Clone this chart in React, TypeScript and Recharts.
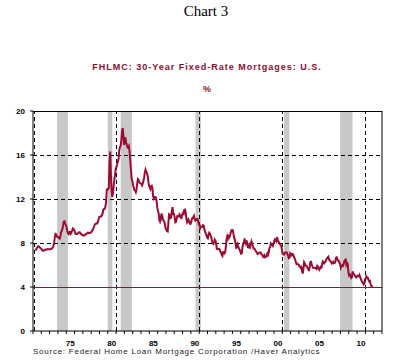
import React from "react"
import {
  ComposedChart,
  Line,
  XAxis,
  YAxis,
  ReferenceArea,
  ReferenceLine,
} from "recharts"

// monthly averages, April 1971 onwards (%)
const rates70s = [
  7.31, 7.43, 7.53, 7.6, 7.7, 7.69, 7.63, 7.55, 7.48,
  7.44, 7.32, 7.29, 7.29, 7.37, 7.37, 7.4, 7.4, 7.43, 7.45, 7.44, 7.44,
  7.44, 7.44, 7.46, 7.52, 7.58, 7.69, 7.97, 8.53, 8.82, 8.78, 8.58, 8.54,
  8.54, 8.46, 8.41, 8.58, 8.97, 9.09, 9.28, 9.59, 9.96, 9.98, 9.79, 9.62,
  9.43, 9.1, 8.89, 8.82, 8.99, 9.01, 8.84, 8.95, 9.13, 9.32, 9.26, 9.22,
  9.02, 8.82, 8.83, 8.81, 8.87, 8.94, 8.97, 8.97, 8.88, 8.82, 8.75, 8.71,
  8.72, 8.67, 8.69, 8.75, 8.83, 8.86, 8.87, 8.94, 8.9, 8.92, 8.92, 8.96,
  9.01, 9.15, 9.2, 9.36, 9.57, 9.71, 9.74, 9.78, 9.76, 9.86, 10.11, 10.35,
  10.39, 10.41, 10.43, 10.5, 10.69, 11.04, 11.09, 11.09, 11.3, 11.64, 12.83, 12.9,
]
const rates80s = [
  12.88, 13.04, 15.28, 16.32, 14.26, 12.71, 12.19, 12.56, 13.2, 13.79, 14.21, 14.79,
  14.9, 15.13, 15.4, 15.58, 16.4, 16.7, 16.83, 17.29, 18.16, 18.45, 17.83, 16.92,
  17.4, 17.6, 17.16, 16.89, 16.68, 16.7, 16.82, 16.27, 15.43, 14.61, 13.83, 13.62,
  13.25, 13.04, 12.8, 12.78, 12.63, 12.87, 13.42, 13.81, 13.73, 13.54, 13.44, 13.42,
  13.37, 13.23, 13.39, 13.65, 13.94, 14.42, 14.67, 14.47, 14.35, 14.13, 13.64, 13.18,
  13.08, 12.92, 13.17, 13.2, 12.91, 12.22, 12.03, 12.19, 12.19, 12.14, 11.78, 11.26,
  10.88, 10.71, 10.08, 9.94, 10.14, 10.68, 10.51, 10.2, 10.01, 9.98, 9.7, 9.32,
  9.2, 9.08, 9.04, 9.83, 10.6, 10.54, 10.28, 10.33, 10.89, 11.26, 10.65, 10.64,
  10.38, 9.89, 9.93, 10.2, 10.46, 10.46, 10.43, 10.6, 10.48, 10.3, 10.27, 10.61,
  10.73, 10.65, 11.03, 11.05, 10.77, 10.2, 9.88, 9.99, 10.13, 9.95, 9.77, 9.74,
]
const rates90s = [
  9.9, 10.2, 10.27, 10.37, 10.48, 10.16, 10.04, 10.1, 10.18, 10.18, 10.01, 9.67,
  9.64, 9.37, 9.5, 9.49, 9.47, 9.62, 9.58, 9.24, 9.01, 8.86, 8.71, 8.5,
  8.43, 8.76, 8.94, 8.85, 8.67, 8.51, 8.13, 7.98, 7.92, 8.09, 8.31, 8.22,
  7.91, 7.47, 7.46, 7.46, 7.47, 7.42, 7.21, 7.11, 6.92, 6.83, 7.16, 7.17,
  7.06, 7.15, 7.68, 8.32, 8.6, 8.4, 8.61, 8.51, 8.64, 8.93, 9.17, 9.2,
  9.15, 8.83, 8.46, 8.32, 7.96, 7.57, 7.61, 7.86, 7.64, 7.48, 7.38, 7.2,
  7.03, 7.08, 7.62, 7.93, 8.07, 8.32, 8.25, 8.0, 8.23, 7.92, 7.62, 7.6,
  7.82, 7.65, 7.9, 8.14, 7.94, 7.69, 7.5, 7.48, 7.43, 7.29, 7.21, 7.1,
  6.99, 7.04, 7.13, 7.14, 7.14, 7.0, 6.95, 6.92, 6.72, 6.71, 6.87, 6.72,
  6.79, 6.81, 7.04, 6.92, 7.15, 7.55, 7.63, 7.94, 7.82, 7.85, 7.74, 7.91,
]
const rates00s = [
  8.21, 8.33, 8.24, 8.15, 8.52, 8.29, 8.15, 8.03, 7.91, 7.8, 7.75, 7.38,
  7.03, 7.05, 6.95, 7.08, 7.15, 7.16, 7.13, 6.95, 6.82, 6.62, 6.66, 7.07,
  7.0, 6.89, 7.01, 6.99, 6.81, 6.65, 6.49, 6.29, 6.09, 6.11, 6.07, 6.05,
  5.92, 5.84, 5.75, 5.81, 5.48, 5.23, 5.63, 6.26, 6.15, 5.95, 5.93, 5.88,
  5.71, 5.64, 5.45, 5.83, 6.27, 6.29, 6.06, 5.87, 5.75, 5.72, 5.73, 5.75,
  5.71, 5.63, 5.93, 5.86, 5.72, 5.58, 5.7, 5.82, 5.77, 6.07, 6.33, 6.27,
  6.15, 6.25, 6.32, 6.51, 6.6, 6.68, 6.76, 6.52, 6.4, 6.36, 6.24, 6.14,
  6.22, 6.29, 6.16, 6.18, 6.26, 6.66, 6.7, 6.57, 6.38, 6.38, 6.21, 6.1,
  5.76, 5.92, 5.97, 5.92, 6.04, 6.32, 6.43, 6.48, 6.04, 6.2, 6.09, 5.33,
  5.06, 5.13, 5.0, 4.81, 4.86, 5.42, 5.22, 5.19, 5.06, 4.95, 4.88, 4.93,
]
const rates10s = [
  5.03, 4.99, 4.97, 5.1, 4.89, 4.74, 4.56, 4.43, 4.35, 4.23, 4.3, 4.71,
  4.76, 4.95, 4.84, 4.84, 4.64, 4.51, 4.55, 4.27, 4.11, 4.07, 3.99,
]

const recessionStarts = [1973.9, 1980.0, 1981.55, 1990.55, 2001.2, 2007.95]
const recessionEnds = [1975.2, 1980.55, 1982.9, 1991.2, 2001.85, 2009.45]
const decadeMarks = [1971.15, 1981, 1991, 2001, 2011]
const gridLevels = [8, 12, 16]
const yTicks = [0, 4, 8, 12, 16, 20]
const labelYears = [1975, 1980, 1985, 1990, 1995, 2000, 2005, 2010]
const labelText = ["75", "80", "85", "90", "95", "00", "05", "10"]

const allRates = [...rates70s, ...rates80s, ...rates90s, ...rates00s, ...rates10s]
const data = allRates.map((rate, i) => ({ t: 1971 + (3 + i + 0.5) / 12, rate }))

const yearTicks: number[] = []
for (let y = 1971; y <= 2013; y++) yearTicks.push(y)

const maroon = "#9b0b32"
const axisFont = { fontFamily: "'Liberation Sans', Arial, sans-serif", fontSize: 8, fontWeight: 700 }

function YearTick(props: any) {
  const { x, y, payload } = props
  const idx = labelYears.indexOf(payload.value)
  if (idx < 0) return <g />
  return (
    <text x={x + 4} y={y} dy="0.71em" textAnchor="middle" fill="#000" style={axisFont}>
      {labelText[idx]}
    </text>
  )
}

export default function App() {
  return (
    <div style={{ position: "absolute", left: 0, top: 0, width: 420, height: 362, background: "#fff" }}>
      <div
        style={{
          position: "absolute", top: 3, left: 0, width: 412, textAlign: "center",
          fontFamily: "'Liberation Serif', 'Times New Roman', serif", fontSize: 15, color: "#000",
        }}
      >
        Chart 3
      </div>
      <div
        style={{
          position: "absolute", top: 62, left: 0, width: 414, textAlign: "center",
          fontFamily: "'Liberation Sans', Arial, sans-serif", fontSize: 9, fontWeight: 700,
          letterSpacing: 1, color: "#8a0f2e",
        }}
      >
        FHLMC: 30-Year Fixed-Rate Mortgages: U.S.
      </div>
      <div
        style={{
          position: "absolute", top: 84, left: 0, width: 414, textAlign: "center",
          fontFamily: "'Liberation Sans', Arial, sans-serif", fontSize: 9, fontWeight: 700, color: "#8a0f2e",
        }}
      >
        %
      </div>
      <ComposedChart
        width={420}
        height={362}
        data={data}
        margin={{ top: 111, right: 8, left: 8, bottom: 11 }}
      >
        <XAxis
          dataKey="t"
          type="number"
          domain={[1971, 2013]}
          ticks={yearTicks}
          interval={0}
          tick={<YearTick />}
          tickSize={3}
          tickMargin={6}
          height={20}
          axisLine={{ stroke: "#000" }}
          tickLine={{ stroke: "#000" }}
          allowDataOverflow
        />
        <YAxis
          yAxisId="l"
          domain={[0, 20]}
          ticks={yTicks}
          width={25}
          tickSize={3}
          tickMargin={5}
          tick={{ fill: "#000", ...axisFont }}
          axisLine={{ stroke: "#000" }}
          tickLine={{ stroke: "#000" }}
        />
        <YAxis
          yAxisId="r"
          orientation="right"
          domain={[0, 20]}
          ticks={yTicks}
          width={30}
          tickSize={3}
          tickMargin={4}
          tick={{ fill: "#000", ...axisFont }}
          axisLine={{ stroke: "#000" }}
          tickLine={{ stroke: "#000" }}
        />
        {recessionStarts.map((s, i) => (
          <ReferenceArea
            key={"r" + i}
            yAxisId="l"
            x1={s}
            x2={recessionEnds[i]}
            y1={0}
            y2={20}
            fill="#c8c8c8"
            fillOpacity={1}
            stroke="none"
          />
        ))}
        {gridLevels.map((g) => (
          <ReferenceLine key={"g" + g} yAxisId="l" y={g} stroke="#000" strokeDasharray="4 3" shapeRendering="crispEdges" />
        ))}
        {decadeMarks.map((d) => (
          <ReferenceLine key={"d" + d} yAxisId="l" x={d} stroke="#000" strokeDasharray="4 3" shapeRendering="crispEdges" />
        ))}
        <ReferenceLine yAxisId="l" y={20} stroke="#000" shapeRendering="crispEdges" />
        <ReferenceLine yAxisId="l" y={4} stroke={maroon} strokeWidth={1} shapeRendering="crispEdges" />
        <Line
          yAxisId="l"
          dataKey="rate"
          type="linear"
          stroke={maroon}
          strokeWidth={2}
          dot={false}
          isAnimationActive={false}
        />
      </ComposedChart>
      <div
        style={{
          position: "absolute", top: 347, left: 33, whiteSpace: "nowrap",
          fontFamily: "'Liberation Sans', Arial, sans-serif", fontSize: 8, letterSpacing: 0.75, color: "#222",
        }}
      >
        Source: Federal Home Loan Mortgage Corporation /Haver Analytics
      </div>
    </div>
  )
}
